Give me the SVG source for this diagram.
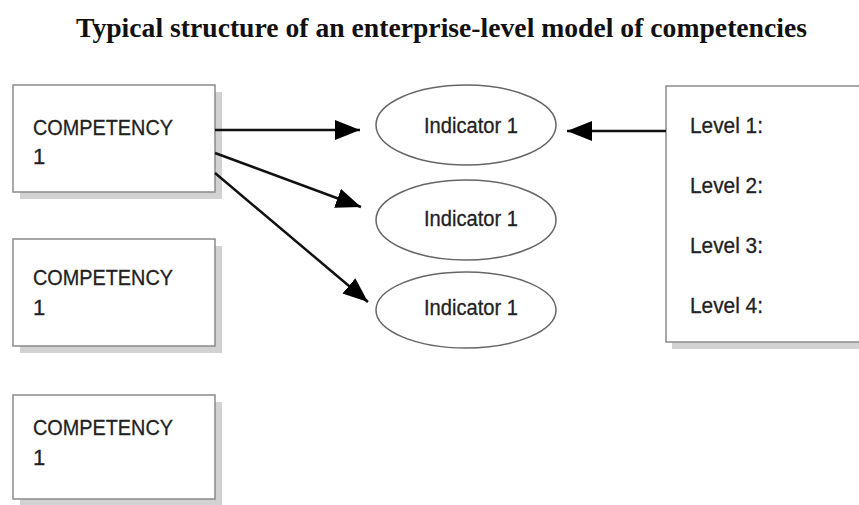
<svg xmlns="http://www.w3.org/2000/svg" width="859" height="505" viewBox="0 0 859 505">
<style>
.title{font-family:"Liberation Serif","Times New Roman",serif;font-weight:bold;font-size:27px;fill:#111}
.lbl{font-family:"Liberation Sans",Arial,sans-serif;font-size:22px;fill:#222;stroke:#222;stroke-width:0.3}
.box{fill:#fff;stroke:#8a8a8a;stroke-width:1.5}
.shadow{fill:#d2d2d2}
.ell{fill:#fff;stroke:#666;stroke-width:1.5}
.conn{stroke:#111;stroke-width:2.5;fill:none;marker-end:url(#ah)}
</style>
<defs>
<marker id="ah" markerUnits="userSpaceOnUse" markerWidth="25" markerHeight="20" refX="25" refY="10" orient="auto">
<path d="M0,0 L25,10 L0,20 Z" fill="#000"/>
</marker>
</defs>
<rect width="859" height="505" fill="#fff"/>
<text class="title" x="76" y="37" textLength="731" lengthAdjust="spacingAndGlyphs">Typical structure of an enterprise-level model of competencies</text>

<g id="competency1">
<rect class="shadow" x="20" y="92" width="202" height="107"/>
<rect class="box" x="13" y="85" width="202" height="107"/>
<text class="lbl" x="33" y="135" textLength="140" lengthAdjust="spacingAndGlyphs">COMPETENCY</text>
<text class="lbl" x="33" y="164">1</text>
</g>
<g id="competency2">
<rect class="shadow" x="20" y="246" width="202" height="107"/>
<rect class="box" x="13" y="239" width="202" height="107"/>
<text class="lbl" x="33" y="285" textLength="140" lengthAdjust="spacingAndGlyphs">COMPETENCY</text>
<text class="lbl" x="33" y="315">1</text>
</g>
<g id="competency3">
<rect class="shadow" x="20" y="402" width="202" height="107"/>
<rect class="box" x="13" y="395" width="202" height="104"/>
<text class="lbl" x="33" y="435" textLength="140" lengthAdjust="spacingAndGlyphs">COMPETENCY</text>
<text class="lbl" x="33" y="465">1</text>
</g>

<g id="indicator1">
<ellipse class="ell" cx="466" cy="125" rx="90" ry="40"/>
<text class="lbl" x="471" y="133" text-anchor="middle" textLength="94" lengthAdjust="spacingAndGlyphs">Indicator 1</text>
</g>
<g id="indicator2">
<ellipse class="ell" cx="466" cy="220" rx="90" ry="40"/>
<text class="lbl" x="471" y="226" text-anchor="middle" textLength="94" lengthAdjust="spacingAndGlyphs">Indicator 1</text>
</g>
<g id="indicator3">
<ellipse class="ell" cx="466" cy="310" rx="90" ry="38"/>
<text class="lbl" x="471" y="315" text-anchor="middle" textLength="94" lengthAdjust="spacingAndGlyphs">Indicator 1</text>
</g>

<g id="levels">
<rect class="shadow" x="672" y="92" width="200" height="257"/>
<rect class="box" x="666" y="86" width="200" height="256"/>
<text class="lbl" x="690" y="133" textLength="73" lengthAdjust="spacingAndGlyphs">Level 1:</text>
<text class="lbl" x="690" y="193" textLength="73" lengthAdjust="spacingAndGlyphs">Level 2:</text>
<text class="lbl" x="690" y="253" textLength="73" lengthAdjust="spacingAndGlyphs">Level 3:</text>
<text class="lbl" x="690" y="313" textLength="73" lengthAdjust="spacingAndGlyphs">Level 4:</text>
</g>

<g id="connectors">
<line class="conn" x1="215" y1="130" x2="360" y2="130"/>
<line class="conn" x1="215" y1="153" x2="361" y2="207"/>
<line class="conn" x1="215" y1="173" x2="368" y2="302"/>
<line class="conn" x1="666" y1="131" x2="567" y2="131"/>
</g>
</svg>
